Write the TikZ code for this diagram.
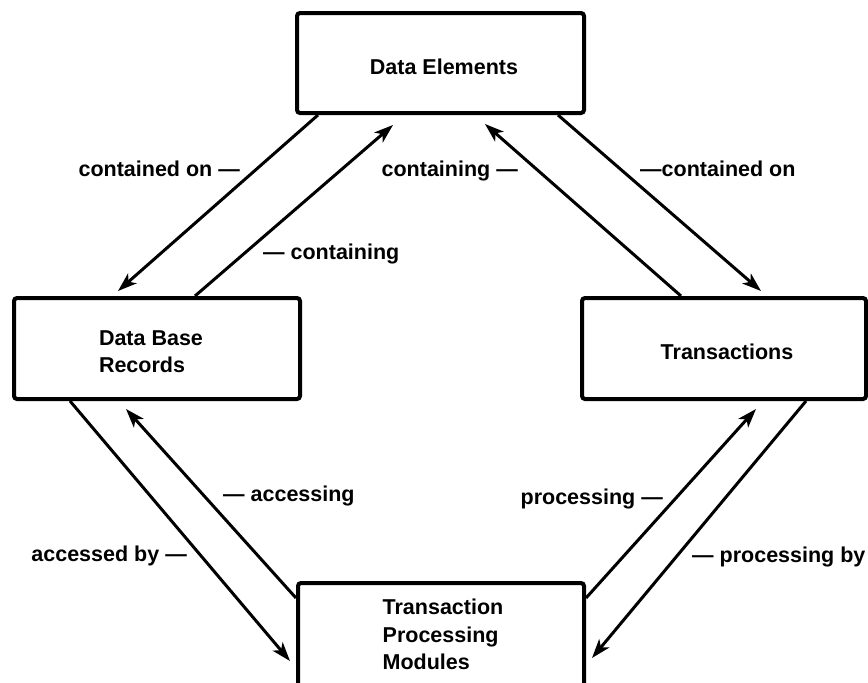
\documentclass[tikz,border=0pt]{standalone}
\usepackage{fontspec}
\setmainfont{Liberation Sans}
\usetikzlibrary{arrows.meta,calc}
\tikzset{
  boxnode/.style={draw=black, line width=4pt, rounded corners=3pt, inner sep=0pt, fill=white},
  txt/.style={inner sep=0pt, font=\bfseries\fontsize{21.5}{27.5}\selectfont, align=left},
  lbl/.style={inner sep=0pt, font=\bfseries\fontsize{21.5}{27.5}\selectfont},
  conn/.style={line width=3pt, -{Stealth[length=19pt,width=13pt,inset=5pt]}}
}
\begin{document}
\begin{tikzpicture}[x=1pt,y=-1pt]
\useasboundingbox (0,0) rectangle (868,683);
\fill[white] (0,0) rectangle (868,683);
\clip (0,0) rectangle (868,683);
% boxes
\node[boxnode, minimum width=287pt, minimum height=100pt] (de) at (440.5,63) {};
\node[boxnode, minimum width=286pt, minimum height=101pt] (dbr) at (157,348.5) {};
\node[boxnode, minimum width=284pt, minimum height=101pt] (tr) at (724,348.5) {};
\node[boxnode, minimum width=286pt, minimum height=140pt] (tpm) at (441,653) {};
% box texts
\node[txt] (det) at (444,67) {Data Elements};
\node[txt] (dbrt) at (151,351.5) {Data Base\\Records};
\node[txt] (trt) at (727,352) {Transactions};
\node[txt] (tpmt) at (443,634.5) {Transaction\\Processing\\Modules};
% connectors
\draw[conn] ($(de.south west)+(23,0)$) -- ($(dbr.north west)+(106,-5)$);
\draw[conn] ($(dbr.north west)+(183,0)$) -- ($(de.south west)+(98,10)$);
\draw[conn] ($(tr.north west)+(101,0)$) -- ($(de.south west)+(190,9)$);
\draw[conn] ($(de.south west)+(263,0)$) -- ($(tr.north west)+(181,-5)$);
\draw[conn] ($(dbr.south west)+(58,0)$) -- ($(tpm.north west)+(-6,80)$);
\draw[conn] ($(tpm.north west)+(0,17)$) -- ($(dbr.south west)+(114,8)$);
\draw[conn] ($(tpm.north east)+(0,17)$) -- ($(tr.south west)+(176,8)$);
\draw[conn] ($(tr.south west)+(226,0)$) -- ($(tpm.north east)+(6,77)$);
% labels
\node[lbl, anchor=mid east] (l1) at (240,174) {contained on —};
\node[lbl, anchor=mid west] (l2) at (263,257) {— containing};
\node[lbl, anchor=mid east] (l3) at (518,174) {containing —};
\node[lbl, anchor=mid west] (l4) at (640,174) {—contained on};
\node[lbl, anchor=mid west] (l5) at (223,499) {— accessing};
\node[lbl, anchor=mid east] (l6) at (187,559) {accessed by —};
\node[lbl, anchor=mid east] (l7) at (663,502) {processing —};
\node[lbl, anchor=mid west] (l8) at (692,560) {— processing by};
\end{tikzpicture}
\end{document}
